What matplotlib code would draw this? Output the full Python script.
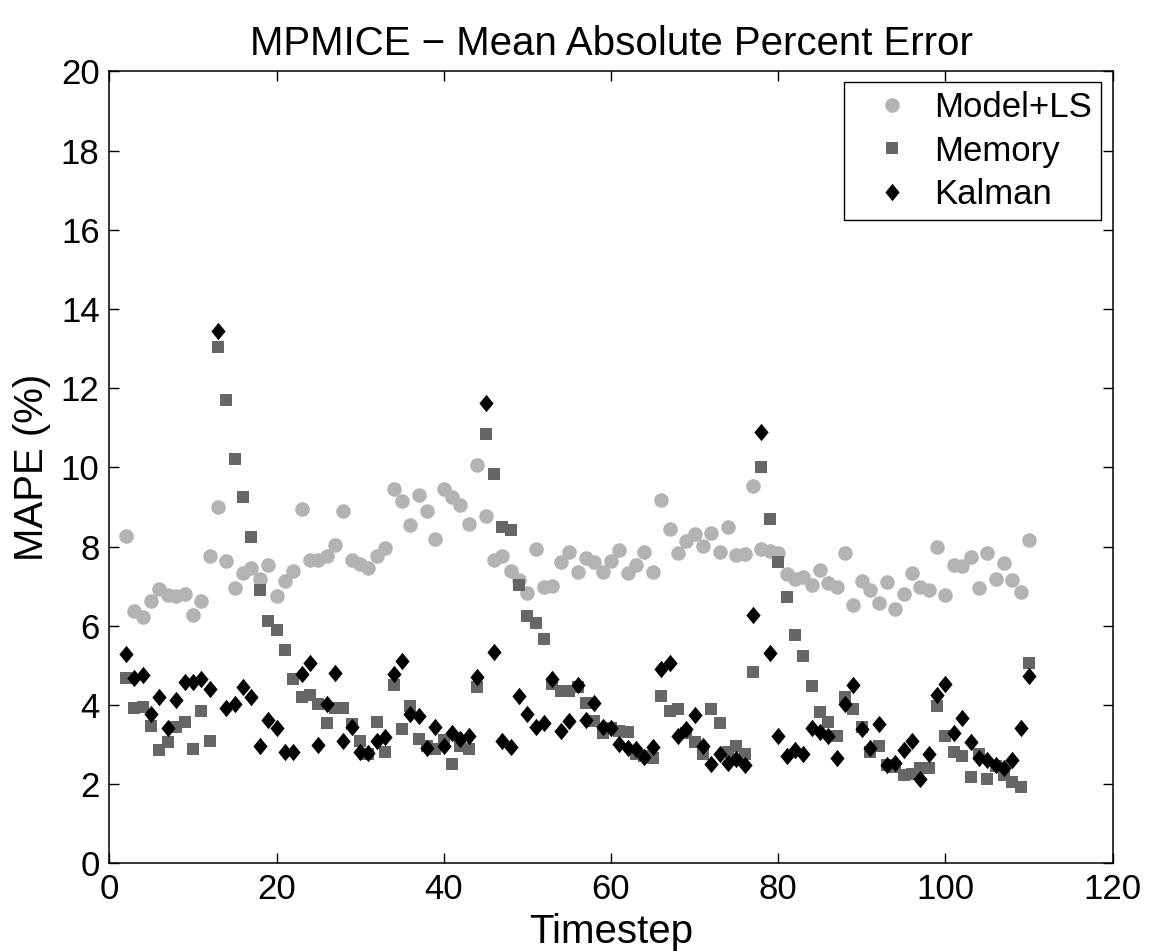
#!/usr/bin/env python3
"""
MPMICE 平均绝对百分比误差 (MAPE) 散点图
"""

import numpy as np
import matplotlib
matplotlib.use('Agg')
import matplotlib.pyplot as plt

# 字体设置 (Helvetica 的替代)
plt.rcParams['font.family'] = ['Liberation Sans', 'DejaVu Sans']
plt.rcParams['font.size'] = 25

# 数据: 时间步 2..110
timestep = np.arange(2, 111)

model_ls = [
    8.26, 6.38, 6.21, 6.63, 6.93, 6.77, 6.74, 6.80, 6.28, 6.63,
    7.75, 9.00, 7.63, 6.95, 7.32, 7.45, 7.19, 7.54, 6.74, 7.12,
    7.39, 8.95, 7.65, 7.65, 7.76, 8.03, 8.89, 7.65, 7.56, 7.45,
    7.76, 7.97, 9.45, 9.14, 8.54, 9.30, 8.90, 8.19, 9.45, 9.24,
    9.06, 8.58, 10.06, 8.77, 7.67, 7.76, 7.37, 7.15, 6.83, 7.95,
    6.97, 7.00, 7.61, 7.87, 7.35, 7.70, 7.61, 7.35, 7.64, 7.90,
    7.32, 7.54, 7.86, 7.35, 9.17, 8.43, 7.84, 8.13, 8.32, 8.02,
    8.35, 7.86, 8.50, 7.78, 7.82, 9.52, 7.95, 7.89, 7.84, 7.30,
    7.19, 7.23, 7.04, 7.41, 7.08, 6.97, 7.83, 6.53, 7.12, 6.91,
    6.58, 7.10, 6.41, 6.80, 7.34, 6.97, 6.90, 7.99, 6.77, 7.54,
    7.52, 7.73, 6.96, 7.84, 7.19, 7.58, 7.15, 6.84, 8.17,
]

memory = [
    4.67, 3.93, 3.96, 3.48, 2.86, 3.06, 3.43, 3.56, 2.89, 3.84,
    3.08, 13.03, 11.70, 10.20, 9.26, 8.25, 6.91, 6.12, 5.90, 5.39,
    4.65, 4.19, 4.26, 4.02, 3.54, 3.93, 3.91, 3.51, 3.10, 2.76,
    3.58, 2.82, 4.50, 3.38, 3.97, 3.15, 2.97, 2.89, 3.12, 2.50,
    2.95, 2.89, 4.45, 10.84, 9.82, 8.50, 8.41, 7.02, 6.25, 6.08,
    5.67, 4.54, 4.34, 4.34, 4.45, 4.06, 3.60, 3.28, 3.41, 3.35,
    3.32, 2.76, 2.71, 2.65, 4.23, 3.84, 3.89, 3.30, 3.06, 2.76,
    3.89, 3.54, 2.82, 2.97, 2.76, 4.84, 10.02, 8.70, 7.60, 6.73,
    5.76, 5.23, 4.47, 3.82, 3.57, 3.22, 4.19, 3.89, 3.45, 2.80,
    2.95, 2.48, 2.43, 2.23, 2.26, 2.41, 2.41, 3.97, 3.22, 2.80,
    2.70, 2.17, 2.76, 2.13, 2.45, 2.23, 2.06, 1.93, 5.06,
]

kalman = [
    5.28, 4.69, 4.76, 3.76, 4.19, 3.41, 4.12, 4.58, 4.58, 4.65,
    4.39, 13.45, 3.93, 4.02, 4.45, 4.19, 2.95, 3.63, 3.41, 2.80,
    2.80, 4.77, 5.06, 3.00, 4.03, 4.80, 3.10, 3.45, 2.82, 2.78,
    3.10, 3.19, 4.77, 5.12, 3.77, 3.71, 2.91, 3.45, 2.97, 3.30,
    3.15, 3.21, 4.71, 11.63, 5.34, 3.10, 2.93, 4.23, 3.78, 3.43,
    3.54, 4.65, 3.35, 3.60, 4.50, 3.63, 4.06, 3.43, 3.41, 3.02,
    2.91, 2.89, 2.69, 2.93, 4.90, 5.06, 3.22, 3.38, 3.74, 2.97,
    2.51, 2.76, 2.54, 2.63, 2.48, 6.28, 10.89, 5.30, 3.22, 2.70,
    2.86, 2.76, 3.41, 3.32, 3.22, 2.65, 4.02, 4.51, 3.39, 2.91,
    3.51, 2.48, 2.54, 2.86, 3.10, 2.13, 2.76, 4.26, 4.54, 3.28,
    3.67, 3.06, 2.67, 2.60, 2.48, 2.41, 2.61, 3.41, 4.73,
]

series_names = ['Model+LS', 'Memory', 'Kalman']
x_ticks = np.arange(0, 121, 20)
y_ticks = np.arange(0, 21, 2)

# MATLAB 风格的菱形 (略高于宽)
diamond = [(0, 1), (0.82, 0), (0, -1), (-0.82, 0), (0, 1)]


def plot_mape():
    fig = plt.figure(figsize=(11.49, 9.51), dpi=100)
    ax = fig.add_axes([0.0951, 0.0922, 0.8733, 0.8328])

    ax.plot(timestep, model_ls, linestyle='none', marker='o', markersize=10.5,
            color='#b3b3b3', markeredgewidth=0, label=series_names[0])
    ax.plot(timestep, memory, linestyle='none', marker='s', markersize=8.6,
            color='#666666', markeredgewidth=0, label=series_names[1])
    ax.plot(timestep, kalman, linestyle='none', marker=diamond, markersize=12.5,
            color='black', markeredgewidth=0, label=series_names[2])

    ax.set_xlim(0, 120)
    ax.set_ylim(0, 20)
    ax.set_xticks(x_ticks)
    ax.set_yticks(y_ticks)
    ax.tick_params(direction='in', length=7, width=1, top=True, right=True,
                   labelsize=25, pad=7)
    for sp in ax.spines.values():
        sp.set_linewidth(1.1)

    ax.set_xlabel('Timestep', fontsize=29, labelpad=5)
    ax.set_ylabel('MAPE (%)', fontsize=29, labelpad=7)
    ax.set_title('MPMICE \u2212 Mean Absolute Percent Error', fontsize=29, pad=12)

    leg = ax.legend(loc='upper right', bbox_to_anchor=(0.9885, 0.986),
                    fontsize=25, frameon=True, fancybox=False, framealpha=1,
                    edgecolor='black', borderpad=0.25, labelspacing=0.3,
                    handlelength=2.27, handletextpad=0.1, borderaxespad=0)
    leg.get_frame().set_linewidth(1.0)

    fig.savefig('out.png', dpi=100)
    return fig


if __name__ == "__main__":
    plot_mape()
